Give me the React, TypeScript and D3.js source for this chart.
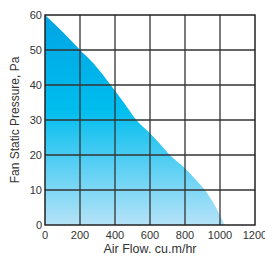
import React from "react";
import * as d3 from "d3";

const width = 265;
const height = 258;
const margin = { top: 15, right: 10, bottom: 33, left: 45 };

// fan curve
const airFlow = [0, 100, 200, 280, 375, 450, 522, 600, 655, 713, 800, 860, 913, 960, 1000, 1027];
const pressure = [60, 55.2, 50, 46, 40, 35, 30, 26.2, 23.3, 20, 16.2, 13, 10, 6.5, 2.8, 0];
const xTicks = [0, 200, 400, 600, 800, 1000, 1200];
const yTicks = [0, 10, 20, 30, 40, 50, 60];

const App = () => {
  const x = d3.scaleLinear().domain([0, 1200]).range([margin.left, width - margin.right]);
  const y = d3.scaleLinear().domain([0, 60]).range([height - margin.bottom, margin.top]);
  const pts = airFlow.map((a, i) => [a, pressure[i]] as [number, number]);
  const area = d3
    .area<[number, number]>()
    .x(d => x(d[0]))
    .y0(y(0))
    .y1(d => y(d[1]))
    .curve(d3.curveMonotoneX)(pts);

  const font = "'Liberation Sans', Arial, sans-serif";
  return (
    <svg width={width} height={height} style={{ position: "absolute", left: 0, top: 0 }}>
      <defs>
        <linearGradient id="fill" x1="0" y1="0" x2="0" y2="1">
          <stop offset="0%" stopColor="#00a4e4" />
          <stop offset="45%" stopColor="#00bdee" />
          <stop offset="100%" stopColor="#b6e3f8" />
        </linearGradient>
      </defs>
      <rect width={width} height={height} fill="#fff" />
      <path d={area || ""} fill="url(#fill)" />
      {xTicks.slice(1, -1).map(t => (
        <line key={"x" + t} x1={x(t)} x2={x(t)} y1={y(0)} y2={y(60)} stroke="#333" strokeWidth={1.3} />
      ))}
      {yTicks.slice(1, -1).map(t => (
        <line key={"y" + t} x1={x(0)} x2={x(1200)} y1={y(t)} y2={y(t)} stroke="#333" strokeWidth={1.3} />
      ))}
      <rect
        x={x(0)}
        y={y(60)}
        width={x(1200) - x(0)}
        height={y(0) - y(60)}
        fill="none"
        stroke="#222"
        strokeWidth={1.5}
      />
      {xTicks.map(t => (
        <text key={"xt" + t} x={x(t)} y={y(0) + 14} textAnchor="middle" fontSize={11} fontFamily={font} fill="#333">
          {t}
        </text>
      ))}
      {yTicks.map(t => (
        <text key={"yt" + t} x={x(0) - 3} y={y(t) + 4} textAnchor="end" fontSize={11} fontFamily={font} fill="#333">
          {t}
        </text>
      ))}
      <text x={x(600)} y={height - 5} textAnchor="middle" fontSize={12.5} fontFamily={font} fill="#333">
        Air Flow. cu.m/hr
      </text>
      <text
        transform={`translate(19, ${y(30)}) rotate(-90)`}
        textAnchor="middle"
        fontSize={12}
        fontFamily={font}
        fill="#333"
      >
        Fan Static Pressure, Pa
      </text>
    </svg>
  );
};

export default App;
